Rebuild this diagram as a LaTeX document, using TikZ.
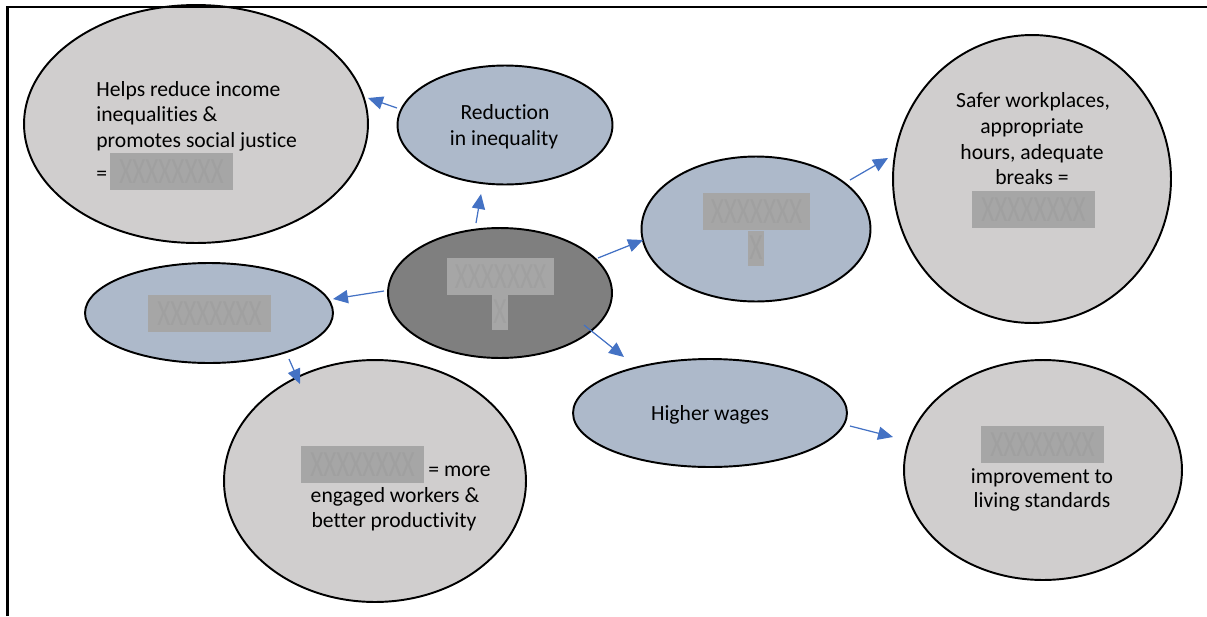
\documentclass[tikz,border=0pt]{standalone}
\usepackage{fontspec}
\usepackage{graphicx}
\setmainfont[Ligatures=NoCommon]{Carlito}
\usetikzlibrary{shapes.geometric,arrows.meta,calc}
\definecolor{lightg}{HTML}{D0CECE}
\definecolor{blueg}{HTML}{ADB9CA}
\definecolor{darkg}{HTML}{7F7F7F}
\definecolor{redact}{HTML}{A6A6A6}
\definecolor{redx}{HTML}{A0A0A0}
\definecolor{arrowblue}{HTML}{4472C4}
\newcommand{\myredX}[1]{\textcolor{redx}{\fontsize{21}{21}\selectfont\scalebox{0.68}[1]{#1}}}
\tikzset{
  ell/.style={ellipse, draw=black, line width=1.1pt, inner sep=0pt},
  arr/.style={draw=arrowblue, line width=0.7pt, -{Triangle[length=8.5pt,width=7.5pt]}},
  txt/.style={font=\fontsize{12.3}{14.5}\selectfont, inner sep=0pt, text=black},
  redbox/.style={rectangle, fill=redact, inner sep=0pt, minimum width=2.46cm, minimum height=0.74cm},
  barbox/.style={rectangle, fill=redact, inner sep=0pt, minimum width=2.14cm, minimum height=0.74cm},
  stembox/.style={rectangle, fill=redact, inner sep=0pt, minimum width=0.32cm, minimum height=0.7cm}
}
\begin{document}
\begin{tikzpicture}[x=0.02cm, y=-0.02cm]
\useasboundingbox (0,0) rectangle (1207,616);
% ellipses
\node[ell, fill=lightg, minimum width=6.88cm, minimum height=4.76cm] (A) at (196,124) {};
\node[ell, fill=blueg, minimum width=4.3cm, minimum height=2.38cm] (B) at (505,125) {};
\node[ell, fill=darkg, minimum width=4.48cm, minimum height=2.6cm] (C) at (500,293) {};
\node[ell, fill=blueg, minimum width=4.58cm, minimum height=2.9cm] (D) at (756,229) {};
\node[ell, fill=lightg, minimum width=5.56cm, minimum height=5.76cm] (E) at (1032,179) {};
\node[ell, fill=blueg, minimum width=4.96cm, minimum height=2.0cm] (F) at (209,313) {};
\node[ell, fill=lightg, minimum width=6.04cm, minimum height=4.84cm] (G) at (375,481) {};
\node[ell, fill=blueg, minimum width=5.48cm, minimum height=2.16cm] (H) at (710,413) {};
\node[ell, fill=lightg, minimum width=5.56cm, minimum height=4.4cm] (I) at (1043,470) {};
% texts A
\node[txt, anchor=base west] (A1) at (96,96) {Helps reduce income};
\node[txt, anchor=base west] (A2) at (96,121) {inequalities \&};
\node[txt, anchor=base west] (A3) at (96,147) {promotes social justice};
\node[txt, anchor=base west] (A4) at (96,180) {=};
\node[redbox] (Ar) at (171.5,171.5) {\myredX{XXXXXXXX}};
% texts B
\node[txt, anchor=base] (B1) at (505,119) {Reduction};
\node[txt, anchor=base] (B2) at (504,145) {in inequality};
% C
\node[stembox] (Cs) at (500,312) {\myredX{X}};
\node[barbox] (Cb) at (500.5,276.5) {\myredX{XXXXXXX}};
% D
\node[stembox] (Ds) at (756,248) {\myredX{X}};
\node[barbox] (Db) at (756.5,211.5) {\myredX{XXXXXXX}};
% E
\node[txt, anchor=base] (E1) at (1033,107) {Safer workplaces,};
\node[txt, anchor=base] (E2) at (1032,133) {appropriate};
\node[txt, anchor=base] (E3) at (1032,159) {hours, adequate};
\node[txt, anchor=base] (E4) at (1032,184) {breaks =};
\node[redbox] (Er) at (1033.5,209.5) {\myredX{XXXXXXXX}};
% F
\node[redbox] (Fr) at (209.5,313.5) {\myredX{XXXXXXXX}};
% G
\node[redbox] (Gr) at (362.5,464.5) {\myredX{XXXXXXXX}};
\node[txt, anchor=base west] (G1) at (428,476) {= more};
\node[txt, anchor=base] (G2) at (395,502) {engaged workers \&};
\node[txt, anchor=base] (G3) at (394,527) {better productivity};
% H
\node[txt, anchor=base] (H1) at (710,420) {Higher wages};
% I
\node[redbox] (Ir) at (1042.5,444.5) {\myredX{XXXXXXXX}};
\node[txt, anchor=base] (I1) at (1042,483) {improvement to};
\node[txt, anchor=base] (I2) at (1042,507) {living standards};
% arrows
\draw[arr] ($(B)+(-108,-17)$) -- ($(A)+(172,-26)$);
\draw[arr] ($(C)+(-24,-70)$) -- ($(B)+(-24,69)$);
\draw[arr] ($(C)+(98,-35)$) -- ($(D)+(-113,11)$);
\draw[arr] ($(D)+(94,-49)$) -- ($(E)+(-144,-21)$);
\draw[arr] ($(C)+(-116,-2)$) -- ($(F)+(124,-14)$);
\draw[arr] ($(C)+(84,32)$) -- ($(H)+(-86,-56)$);
\draw[arr] ($(F)+(80,46)$) -- ($(G)+(-75,-97)$);
\draw[arr] ($(H)+(140,13)$) -- ($(I)+(-150,-33)$);
% frame
\draw[line width=1.3pt] (7.5,616) -- (7.5,7) -- (1207,7);
\end{tikzpicture}
\end{document}
